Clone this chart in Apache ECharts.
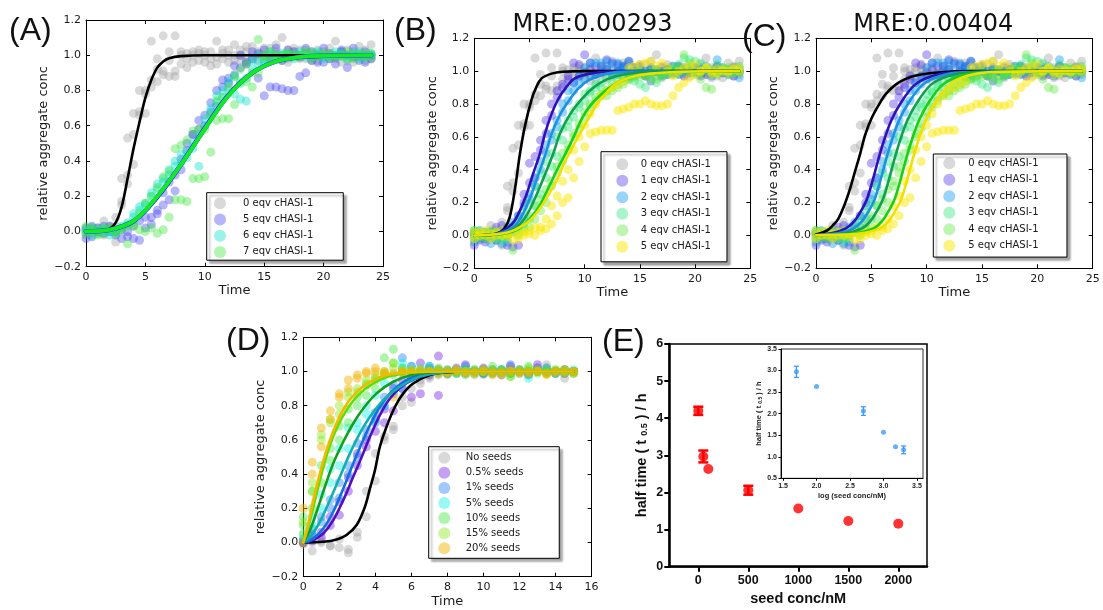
<!DOCTYPE html>
<html><head><meta charset="utf-8">
<script src="https://cdn.jsdelivr.net/npm/echarts@6/dist/echarts.min.js"></script>
<style>html,body{margin:0;padding:0;background:#fff}#c{width:1103px;height:610px}</style>
</head><body><div id="c"></div>
<script>
// ---------- DATA ----------
const timesABC = [0,0.5,1,1.5,2,2.5,3,3.5,4,4.5,5,5.5,6,6.5,7,7.5,8,8.5,9,9.5,10,10.5,11,11.5,12,12.5,13,13.5,14,14.5,15,15.5,16,16.5,17,17.5,18,18.5,19,19.5,20,20.5,21,21.5,22,22.5,23,23.5,24];
const timesD = [0,0.5,1,1.5,2,2.5,3,3.5,4,4.5,5,5.5,6,6.5,7,7.5,8,8.5,9,9.5,10,10.5,11,11.5,12,12.5,13,13.5,14,14.5,15];

// 0 eqv cHASI-1 (shared by A, B, C)
const eqv0_r1 = [0,0.02,-0.01,0.06,0.03,-0.06,0.17,0.32,0.55,0.66,0.8,1.08,0.85,1.11,1.02,1.11,0.95,1.01,1.0,0.97,1.02,0.94,1.08,0.98,1.0,1.06,0.98,1.02,1.0,0.97,1.04,1.0,1.06,1.1,0.98,1.0,1.03,0.98,1.01,1.03,0.99,1.0,1.08,1.0,0.97,1.02,1.05,1.0,1.06];
const eqv0_r2 = [-0.02,0.01,0.02,-0.02,0,0.03,0.15,0.27,0.38,0.68,0.67,0.82,0.92,0.89,0.88,0.91,1.0,0.93,1.02,1.01,0.96,1.02,0.99,1.03,0.96,1.0,1.03,0.97,1.05,1.0,0.98,1.04,1.0,0.97,1.03,1.02,0.98,1.01,0.97,1.0,1.02,0.98,1.0,0.96,1.03,0.99,1.01,0.97,1.0];
const eqv0_r3 = [0.01,-0.01,0,0.01,0.02,0.08,0.3,0.53,0.67,0.8,0.78,0.86,0.98,0.91,0.97,0.88,1.02,0.98,0.96,1.03,1.0,0.98,0.95,1.01,1.03,0.97,1.0,1.05,0.98,1.02,1.0,0.97,1.02,1.0,0.96,1.04,1.0,1.03,0.99,0.97,1.0,1.04,0.98,1.02,1.0,0.96,0.99,1.03,0.98];

// Panel A
const a5_r1 = [-0.04,0.03,0.02,0.03,0,-0.02,0.01,-0.03,-0.04,-0.05,0.02,0.08,0.1,0.15,0.18,0.23,0.35,0.5,0.55,0.58,0.66,0.68,0.71,0.82,0.87,0.89,0.93,0.96,0.98,0.87,0.77,0.82,0.82,0.81,0.8,0.8,0.88,0.9,0.97,1.0,0.96,0.98,0.95,1.02,0.93,0.99,1.0,0.96,0.98];
const a5_r2 = [0.02,-0.03,0,-0.01,0.03,0,-0.04,0,0.03,0.06,0.08,0.04,0.12,0.22,0.28,0.32,0.41,0.46,0.55,0.63,0.6,0.73,0.8,0.86,0.84,0.94,1.0,0.95,1.02,1.01,1.03,0.98,1.04,0.97,1.03,1.02,0.99,1.04,1.02,0.96,1.04,1.01,0.99,1.03,1.0,1.04,0.97,1.02,1.0];
const a6_r1 = [0.01,0.02,-0.01,0,-0.02,0.01,0.02,0.05,0.08,0.12,0.16,0.2,0.27,0.3,0.35,0.37,0.44,0.45,0.5,0.55,0.64,0.7,0.73,0.76,0.8,0.78,0.75,0.87,0.92,0.95,0.97,1.0,0.98,1.01,0.99,1.0,1.02,0.99,1.0,1.01,0.98,1.0,1.02,0.99,1.0,1.01,0.98,1.0,1.01];
const a6_r2 = [0,-0.02,0.01,0.02,0,-0.01,0.03,0.04,0.1,0.14,0.15,0.22,0.24,0.28,0.32,0.4,0.39,0.42,0.47,0.37,0.6,0.67,0.77,0.8,0.85,0.88,0.84,0.74,0.97,1.0,0.96,1.02,0.99,1.0,1.01,0.98,1.0,1.01,0.99,1.02,1.0,0.99,1.0,1.01,0.98,1.0,1.02,0.99,1.0];
const a7_r1 = [0.03,0,-0.02,0.02,0.01,-0.01,0.02,-0.07,0.03,0.01,0,0.02,-0.01,0.01,0.08,0.18,0.18,0.17,0.3,0.3,0.31,0.45,0.63,0.64,0.64,0.72,0.85,0.85,0.9,1.09,0.99,0.97,1.0,0.98,1.01,0.99,1.0,1.02,0.98,1.0,1.01,0.99,1.0,1.0,0.98,1.01,1.0,0.99,1.01];
const a7_r2 = [-0.01,0.02,0.01,-0.01,0.02,0,0.01,0.03,0.05,0.1,0.16,0.2,0.25,0.31,0.34,0.47,0.49,0.52,0.57,0.58,0.58,0.66,0.74,0.76,0.82,0.88,0.92,0.95,0.82,0.9,1.0,1.02,0.99,1.0,1.01,1.0,0.99,1.0,1.02,0.99,1.0,1.01,0.99,1.0,1.02,0.98,1.0,1.01,0.99];

// Panels B and C (same measurements)
const b1_r1 = [-0.06,-0.03,-0.04,0.02,0.05,0.06,-0.06,-0.07,-0.06,0.2,0.44,0.48,0.58,0.7,0.8,0.88,0.92,0.97,1.05,1.04,1.1,1.05,0.98,1.03,1.07,1.05,1.04,1.02,1.06,1.0,1.03,0.98,0.94,1.0,1.02,0.98,1.0,1.03,0.97,1.0,1.02,0.97,1.0,0.98,1.03,1.0,0.99,0.97,1.0];
const b1_r2 = [0.02,0,-0.02,0,-0.03,0.02,0,0.05,0.12,0.25,0.32,0.35,0.52,0.62,0.73,0.84,0.9,0.95,0.93,0.97,0.99,1.01,1.03,0.99,1.01,0.98,1.0,1.03,0.97,1.02,1.0,0.97,1.01,1.0,0.98,1.01,0.99,1.0,1.02,0.99,1.0,1.01,0.98,1.0,1.01,0.99,1.0,1.02,1.0];
const b2_r1 = [-0.04,-0.02,0,-0.05,-0.03,-0.05,-0.04,0.02,0.05,0.1,0.22,0.3,0.4,0.55,0.62,0.7,0.8,0.88,0.93,0.97,1.02,1.05,1.05,1.05,1.06,1.04,1.05,1.03,1.06,1.02,1.0,0.98,1.02,1.0,0.97,1.01,1.03,0.98,1.0,1.02,0.99,1.0,1.03,0.97,1.07,1.0,0.98,1.02,0.96];
const b2_r2 = [0.01,0.03,0.02,0,0.01,0.03,0.05,0.08,0.12,0.18,0.25,0.35,0.45,0.5,0.58,0.66,0.75,0.82,0.88,0.92,0.95,0.97,0.98,1.0,1.01,0.98,1.0,1.01,0.99,1.0,1.02,1.0,0.99,1.01,1.0,0.98,1.0,1.02,1.0,0.99,1.0,1.02,1.0,0.99,1.0,1.01,0.99,1.0,1.02];
const b3_r1 = [0.03,0,-0.02,0.02,0,-0.03,0.01,0.03,0,0.05,0.1,0.18,0.25,0.35,0.42,0.48,0.58,0.66,0.72,0.78,0.82,0.87,0.9,0.93,0.95,0.97,0.98,0.96,1.0,0.94,0.92,0.9,0.95,0.93,0.98,1.0,1.02,1.04,1.08,1.07,1.06,1.05,1.02,1.0,1.04,1.02,0.98,1.0,1.03];
const b3_r2 = [-0.02,0.02,0.01,-0.01,0.02,0,0.02,0.06,0.1,0.15,0.2,0.3,0.38,0.45,0.5,0.6,0.65,0.7,0.76,0.8,0.86,0.88,0.92,0.9,0.88,0.92,0.95,0.97,0.96,0.99,1.0,0.98,1.0,1.01,0.99,1.0,0.98,1.0,1.01,1.0,0.98,1.0,1.01,0.99,1.0,1.02,1.0,0.99,1.0];
const b4_r1 = [0,0.02,-0.01,0,0.02,-0.01,-0.02,-0.09,0.01,0.03,0.05,0.1,0.15,0.2,0.3,0.38,0.45,0.52,0.6,0.65,0.72,0.78,0.82,0.85,0.88,0.9,0.92,0.94,0.95,0.96,0.97,0.98,0.96,0.95,0.97,0.98,1.0,1.02,1.1,1.05,1.0,0.95,0.9,0.89,0.98,1.0,1.02,0.99,1.01];
const b4_r2 = [0.03,-0.01,0.01,0.03,-0.02,0.01,0,0.03,0.05,0.08,0.12,0.18,0.22,0.28,0.33,0.42,0.5,0.55,0.62,0.68,0.75,0.8,0.84,0.86,0.85,0.88,0.9,0.92,0.95,0.97,0.99,0.97,0.99,1.0,0.98,1.0,1.01,0.99,1.0,1.02,1.0,0.99,1.0,1.01,0.99,1.0,1.01,1.0,0.99];
const b5_r1 = [0.02,0,0.03,0.01,0.02,0,0.01,0.02,-0.02,0,0.03,0.05,0.03,0.04,0.07,0.12,0.2,0.23,0.35,0.45,0.54,0.62,0.63,0.64,0.64,0.64,0.76,0.77,0.78,0.8,0.8,0.82,0.8,0.79,0.79,0.8,0.85,0.9,0.93,0.96,0.98,1.0,1.02,1.0,0.99,1.01,1.0,1.02,1.0];
const b5_r2 = [-0.02,0.02,0,-0.02,0,0.03,0,-0.03,0.01,0.02,0.01,0,0.05,0.1,0.18,0.24,0.33,0.4,0.52,0.6,0.67,0.74,0.8,0.85,0.88,0.9,0.92,0.94,1.02,1.03,1.04,1.05,1.06,1.03,1.05,1.02,0.97,1.0,1.02,1.03,1.04,1.0,1.02,0.98,1.01,1.0,0.99,1.01,1.02];

// Panel D
const d0_r1 = [0,-0.05,0,-0.02,0.02,-0.06,0.06,0.15,0.52,0.62,0.68,0.85,0.82,0.95,0.97,0.99,0.98,1.0,0.99,1.01,0.98,1.0,1.01,0.99,1.0,0.98,1.01,1.04,1.0,0.96,1.0];
const d0_r2 = [-0.01,0,0.01,-0.02,-0.03,-0.04,0.03,0.3,0.36,0.6,0.66,0.8,0.9,0.93,0.96,0.98,1.0,0.99,1.0,0.98,1.0,0.99,1.0,1.01,0.99,1.0,1.02,0.99,1.0,1.01,0.99];
const d05_r1 = [0,0.01,0.03,0.1,0.16,0.38,0.52,0.56,0.65,0.7,0.77,0.9,0.85,0.87,0.98,0.86,1.0,1.02,1.04,1.0,1.02,1.0,0.98,1.03,1.0,0.99,1.04,1.02,1.0,0.99,1.0];
const d05_r2 = [0,0.04,0.06,0.15,0.24,0.3,0.45,0.6,0.72,0.78,0.9,0.95,1.03,1.05,1.02,1.09,0.99,1.0,1.01,1.0,0.99,1.01,1.0,0.99,1.01,1.0,1.01,1.0,0.99,1.0,1.0];
const d1_r1 = [0,0.05,0.12,0.25,0.26,0.4,0.5,0.62,0.7,0.8,0.87,0.9,0.96,0.98,1.03,1.0,1.01,0.99,1.03,1.0,0.99,1.0,1.01,1.04,1.0,0.99,1.02,1.0,0.99,1.01,1.0];
const d1_r2 = [0.02,0.08,0.15,0.2,0.35,0.45,0.58,0.66,0.76,0.85,0.92,1.08,0.97,1.0,0.99,1.01,1.0,1.01,0.99,1.0,1.01,0.99,1.0,1.01,1.0,0.98,1.0,1.01,1.0,0.99,1.0];
const d5_r1 = [0.02,0.1,0.2,0.35,0.45,0.55,0.66,0.75,0.71,0.8,0.88,1.05,1.0,1.02,1.03,1.0,0.99,1.0,1.01,0.99,1.0,1.01,0.99,1.0,1.01,0.96,1.0,1.02,1.0,0.99,1.0];
const d5_r2 = [0.05,0.15,0.28,0.43,0.55,0.67,0.7,0.8,0.86,0.93,0.98,1.02,1.03,0.99,1.0,1.01,1.0,0.99,1.0,1.01,1.0,0.99,1.01,1.0,0.99,1.0,1.01,1.0,0.99,1.0,1.01];
const d10_r1 = [0.1,0.2,0.35,0.48,0.6,0.7,0.8,0.86,0.9,1.08,1.13,1.0,1.0,0.98,1.0,1.02,0.99,1.0,0.98,1.0,1.01,1.03,1.0,0.99,1.0,1.03,1.0,0.99,1.01,1.0,1.0];
const d10_r2 = [0.15,0.3,0.45,0.55,0.68,0.78,0.85,0.92,0.95,0.98,1.05,1.02,0.99,1.0,1.01,1.0,0.99,1.0,1.01,1.0,0.99,1.0,1.01,0.97,1.0,1.01,0.99,1.0,1.0,1.01,0.99];
const d15_r1 = [0.05,0.3,0.6,0.7,0.75,0.85,0.88,0.93,0.96,0.99,1.05,1.0,1.01,1.0,0.99,1.0,1.01,0.99,1.0,1.01,1.0,0.99,1.0,0.97,1.0,1.02,1.0,0.99,1.01,1.0,0.99];
const d15_r2 = [0.12,0.35,0.63,0.72,0.8,0.88,0.9,0.95,0.98,1.0,1.02,0.99,1.0,1.01,1.0,0.99,1.0,1.01,1.0,0.99,1.0,1.01,0.99,1.0,1.01,0.99,1.0,1.01,0.99,1.0,1.0];
const d20_r1 = [0.2,0.4,0.56,0.77,0.87,0.95,0.98,0.99,1.0,0.99,0.85,1.0,0.99,1.01,1.0,0.99,1.0,1.01,0.99,1.0,1.01,0.98,1.0,1.01,0.99,1.0,1.01,0.99,1.0,1.01,1.0];
const d20_r2 = [0,0.47,0.67,0.72,0.85,0.9,0.96,1.0,1.02,1.0,0.99,1.0,1.0,0.98,1.0,1.01,0.99,1.0,1.0,0.99,1.0,1.0,0.98,1.0,1.0,0.99,1.0,0.98,1.0,0.99,1.0];

// Fitted curves, [time, value]
const fitA0 = [[0,0],[1,0.002],[1.5,0.005],[2,0.015],[2.5,0.05],[3,0.14],[3.5,0.3],[4,0.47],[4.5,0.62],[5,0.76],[5.5,0.86],[6,0.93],[6.5,0.965],[7,0.983],[8,0.995],[10,1],[24,1]];
const fitA5 = [[0,0],[2,0.01],[4,0.058],[6,0.195],[8,0.38],[10,0.585],[12,0.775],[14,0.9],[16,0.965],[18,0.99],[20,0.997],[24,1]];
const fitA6 = [[0,0],[2,0.01],[4,0.059],[6,0.198],[8,0.38],[10,0.582],[12,0.772],[14,0.9],[16,0.965],[18,0.99],[20,0.997],[24,1]];
const fitA7 = [[0,0],[2,0.01],[4,0.06],[6,0.2],[8,0.38],[10,0.58],[12,0.77],[14,0.9],[16,0.965],[18,0.99],[20,0.997],[24,1]];

const fitB0 = [[0,0],[1,0.001],[2,0.008],[2.7,0.04],[3.2,0.11],[3.7,0.29],[4.14,0.5],[4.6,0.67],[5.2,0.83],[5.6,0.9],[6.1,0.956],[7,0.985],[8,0.996],[10,1],[24,1]];
const fitB1 = [[0,0],[1,0.003],[2,0.012],[3,0.045],[3.7,0.094],[4.6,0.226],[5.3,0.37],[5.95,0.5],[6.4,0.62],[7,0.74],[7.6,0.83],[8.3,0.9],[9.1,0.956],[10.5,0.985],[12,0.996],[24,1]];
const fitB2 = [[0,0],[1,0.002],[2,0.008],[3,0.03],[3.7,0.06],[4.4,0.13],[5.04,0.226],[5.8,0.37],[6.47,0.5],[7.01,0.62],[7.8,0.74],[8.67,0.83],[9.5,0.9],[10.5,0.95],[12,0.985],[14,0.997],[24,1]];
const fitB3 = [[0,0],[2,0.006],[3,0.02],[4,0.06],[4.8,0.13],[5.5,0.226],[6.4,0.37],[7.16,0.5],[7.76,0.62],[8.7,0.74],[9.73,0.83],[10.8,0.9],[12,0.95],[13.5,0.98],[16,0.996],[24,1]];
const fitB4 = [[0,0],[2,0.005],[3,0.015],[4,0.04],[5,0.1],[5.9,0.18],[6.7,0.287],[7.5,0.4],[8.2,0.49],[9,0.6],[9.73,0.71],[10.5,0.79],[11.5,0.86],[12.7,0.92],[14,0.96],[16,0.985],[20,0.998],[24,1]];
const fitB5 = [[0,0],[2,0.007],[3,0.018],[3.7,0.035],[5,0.09],[6,0.17],[6.7,0.246],[7.5,0.34],[8.2,0.449],[9,0.55],[9.73,0.64],[10.5,0.73],[11.23,0.81],[12,0.87],[12.74,0.92],[14,0.96],[16,0.985],[20,0.998],[24,1]];

const fitC0 = [[0,0.005],[1,0.03],[1.5,0.06],[2,0.1],[2.62,0.195],[3.1,0.29],[3.52,0.388],[4,0.5],[4.43,0.61],[5,0.71],[5.63,0.79],[6.3,0.86],[7.14,0.915],[8,0.95],[9.24,0.976],[11,0.992],[14,1],[24,1]];
const fitC1 = [[0,0.003],[1.5,0.015],[2.7,0.043],[3.5,0.09],[4.2,0.165],[4.6,0.22],[5.1,0.33],[5.7,0.48],[6.2,0.59],[6.8,0.7],[7.6,0.8],[8.9,0.915],[10.5,0.97],[12.5,0.993],[24,1]];
const fitC2 = [[0,0.002],[2,0.013],[3.4,0.043],[4.2,0.09],[4.9,0.165],[5.3,0.22],[5.8,0.33],[6.4,0.48],[6.9,0.59],[7.5,0.7],[8.3,0.8],[9.6,0.915],[11.2,0.97],[13.2,0.993],[24,1]];
const fitC3 = [[0,0.001],[2.5,0.012],[4.15,0.043],[4.95,0.09],[5.65,0.165],[6.05,0.22],[6.55,0.33],[7.15,0.48],[7.65,0.59],[8.25,0.7],[9.05,0.8],[10.35,0.915],[11.95,0.97],[14,0.993],[24,1]];
const fitC4 = [[0,0.001],[3,0.008],[5.2,0.043],[6,0.09],[6.7,0.165],[7.1,0.22],[7.6,0.33],[8.2,0.48],[8.7,0.59],[9.3,0.7],[10.1,0.8],[11.4,0.915],[13,0.97],[15,0.993],[24,1]];
const fitC5 = [[0,0.001],[3.5,0.008],[5.8,0.043],[6.6,0.09],[7.3,0.165],[7.7,0.22],[8.2,0.33],[8.8,0.48],[9.3,0.59],[9.9,0.7],[10.7,0.8],[12,0.915],[13.6,0.97],[15.6,0.993],[24,1]];

const fitD0 = [[0,0],[1.11,0.004],[1.85,0.018],[2.4,0.044],[2.96,0.102],[3.42,0.209],[3.7,0.316],[3.98,0.424],[4.25,0.56],[4.62,0.677],[5.09,0.794],[5.55,0.872],[6.1,0.93],[7.03,0.979],[7.95,0.995],[9,1],[15,1]];
const fitD05 = [[0,0],[0.55,0.014],[1.11,0.053],[1.66,0.13],[2.22,0.248],[2.77,0.384],[3.24,0.5],[3.7,0.618],[4.25,0.745],[4.81,0.842],[5.55,0.92],[6.47,0.968],[7.58,0.995],[9,1],[15,1]];
const fitD1 = [[0,0],[0.55,0.023],[1.11,0.082],[1.66,0.18],[2.22,0.316],[2.77,0.462],[3.24,0.579],[3.7,0.686],[4.25,0.794],[4.9,0.881],[5.73,0.95],[6.84,0.989],[8,1],[15,1]];
const fitD5 = [[0,0],[0.46,0.043],[0.92,0.121],[1.48,0.248],[2.03,0.384],[2.59,0.521],[3.14,0.638],[3.7,0.735],[4.44,0.833],[5.36,0.911],[6.47,0.97],[7.77,0.995],[9,1],[15,1]];
const fitD10 = [[0,0],[0.37,0.072],[0.74,0.18],[1.2,0.326],[1.66,0.462],[2.22,0.589],[2.77,0.696],[3.33,0.784],[4.07,0.872],[4.99,0.94],[6.1,0.983],[7.4,0.997],[9,1],[15,1]];
const fitD15 = [[0,0],[0.28,0.092],[0.65,0.248],[1.02,0.404],[1.39,0.54],[1.85,0.667],[2.4,0.774],[3.05,0.862],[3.88,0.93],[4.81,0.973],[6.1,0.995],[8,1],[15,1]];
const fitD20 = [[0,0],[0.28,0.111],[0.55,0.248],[0.92,0.404],[1.29,0.54],[1.76,0.677],[2.31,0.794],[2.96,0.881],[3.7,0.94],[4.62,0.979],[5.92,0.995],[8,1],[15,1]];

// Panel E
const seedConc = [0,50,100,500,1000,1500,2000];
const halfTime = [4.2,2.97,2.63,2.06,1.57,1.23,1.16];
const halfTimeErr = [0.11,0.16,0,0.12,0,0,0];
const logSeed = [1.7,2.0,2.7,3.0,3.18,3.3];
const insetHalfTime = [2.97,2.63,2.06,1.57,1.23,1.16];
const insetErr = [0.13,0,0.1,0,0,0.09];

const xTicksE = [0,500,1000,1500,2000];
const xTicksInset = [1.5,2.0,2.5,3.0,3.5];

// ---------- BUILD ----------
const F = "'DejaVu Sans', sans-serif";
const FA = "'Liberation Sans', Arial, sans-serif";
const grids = [], xAxes = [], yAxes = [], series = [];

function fmt1(v){ if (Math.abs(v) < 1e-9) return '0.0'; return v.toFixed(1).replace('-', '\u2212'); }

function mplPanel(r, xmin, xmax, xint, gapY, gapX){
  grids.push({left:r.l, top:r.t, width:r.w, height:r.h, show:false});
  const gi = grids.length - 1;
  const line = {show:true, onZero:false, lineStyle:{color:'#000', width:1}};
  const tick = {show:true, inside:true, length:4, lineStyle:{color:'#000', width:1}};
  const lab = {fontSize:11, color:'#1a1a1a', fontFamily:F};
  xAxes.push({type:'value', gridIndex:gi, min:xmin, max:xmax, interval:xint, position:'bottom',
    axisLine:line, axisTick:tick, splitLine:{show:false}, axisLabel:Object.assign({margin:5}, lab),
    name:'Time', nameLocation:'middle', nameGap:gapX, nameTextStyle:{fontSize:13, color:'#1a1a1a', fontFamily:F}});
  const xi = xAxes.length - 1;
  xAxes.push({type:'value', gridIndex:gi, min:xmin, max:xmax, interval:xint, position:'top',
    axisLine:line, axisTick:tick, splitLine:{show:false}, axisLabel:{show:false}});
  yAxes.push({type:'value', gridIndex:gi, min:-0.2, max:1.2, interval:0.2, position:'left',
    axisLine:line, axisTick:tick, splitLine:{show:false}, axisLabel:Object.assign({margin:5, formatter:fmt1}, lab),
    name:'relative aggregate conc', nameLocation:'middle', nameGap:gapY, nameRotate:90,
    nameTextStyle:{fontSize:13, color:'#1a1a1a', fontFamily:F}});
  const yi = yAxes.length - 1;
  yAxes.push({type:'value', gridIndex:gi, min:-0.2, max:1.2, interval:0.2, position:'right',
    axisLine:line, axisTick:tick, splitLine:{show:false}, axisLabel:{show:false}});
  return {xi, yi};
}

function pts(times, reps){
  const out = [];
  reps.forEach(r => r.forEach((y, i) => out.push([times[i], y])));
  return out;
}
function scat(ax, name, color, data){
  series.push({type:'scatter', name, xAxisIndex:ax.xi, yAxisIndex:ax.yi, data, symbolSize:9,
    itemStyle:{color, borderWidth:0}, silent:true, z:2});
}
function fit(ax, color, data, w){
  series.push({type:'line', name:'fit', xAxisIndex:ax.xi, yAxisIndex:ax.yi, data, smooth:0.35,
    showSymbol:false, symbol:'none', lineStyle:{color, width:w || 2.6, cap:'round', join:'round'}, silent:true, z:3});
}

const C = {
  gray:'rgba(160,160,160,0.5)',
  a5:'rgba(70,70,240,0.5)', a6:'rgba(0,225,200,0.5)', a7:'rgba(60,230,60,0.5)',
  b1:'rgba(80,50,230,0.5)', b2:'rgba(0,150,245,0.5)', b3:'rgba(40,230,120,0.5)', b4:'rgba(90,230,60,0.5)', b5:'rgba(250,230,0,0.62)',
  d05:'rgba(110,20,230,0.5)', d1:'rgba(20,120,245,0.5)', d5:'rgba(0,240,230,0.5)', d10:'rgba(50,230,50,0.5)', d15:'rgba(130,230,10,0.5)', d20:'rgba(245,180,0,0.6)'
};

// Panel A
const A = mplPanel({l:86, t:20, w:297, h:246.7}, 0, 25, 5, 35, 17);
scat(A, '0 eqv cHASI-1', C.gray, pts(timesABC, [eqv0_r1, eqv0_r2, eqv0_r3]));
scat(A, '5 eqv cHASI-1', C.a5, pts(timesABC, [a5_r1, a5_r2]));
scat(A, '6 eqv cHASI-1', C.a6, pts(timesABC, [a6_r1, a6_r2]));
scat(A, '7 eqv cHASI-1', C.a7, pts(timesABC, [a7_r1, a7_r2]));
fit(A, '#000', fitA0);
fit(A, '#2a2ad0', fitA5, 4.6);
fit(A, '#10c8b0', fitA6, 4);
fit(A, '#11ee11', fitA7, 3.2);

// Panels B and C
const BC = [
  [mplPanel({l:474.3, t:38.3, w:276, h:230}, 0, 25, 5, 32, 18), [fitB0, fitB1, fitB2, fitB3, fitB4, fitB5]],
  [mplPanel({l:816, t:38.3, w:276.7, h:230}, 0, 25, 5, 35, 18), [fitC0, fitC1, fitC2, fitC3, fitC4, fitC5]]
];
const fitColsBC = ['#000', '#2c12b8', '#1a92e0', '#12a050', '#18d018', '#f0e000'];
BC.forEach(([ax, fits]) => {
  scat(ax, '0 eqv cHASI-1', C.gray, pts(timesABC, [eqv0_r1, eqv0_r2, eqv0_r3]));
  scat(ax, '1 eqv cHASI-1', C.b1, pts(timesABC, [b1_r1, b1_r2]));
  scat(ax, '2 eqv cHASI-1', C.b2, pts(timesABC, [b2_r1, b2_r2]));
  scat(ax, '3 eqv cHASI-1', C.b3, pts(timesABC, [b3_r1, b3_r2]));
  scat(ax, '4 eqv cHASI-1', C.b4, pts(timesABC, [b4_r1, b4_r2]));
  scat(ax, '5 eqv cHASI-1', C.b5, pts(timesABC, [b5_r1, b5_r2]));
  fits.forEach((f, i) => fit(ax, fitColsBC[i], f));
});

// Panel D
const D = mplPanel({l:303.3, t:337.3, w:288.3, h:239.4}, 0, 16, 2, 36, 18.5);
scat(D, 'No seeds', C.gray, pts(timesD, [d0_r1, d0_r2]));
scat(D, '0.5% seeds', C.d05, pts(timesD, [d05_r1, d05_r2]));
scat(D, '1% seeds', C.d1, pts(timesD, [d1_r1, d1_r2]));
scat(D, '5% seeds', C.d5, pts(timesD, [d5_r1, d5_r2]));
scat(D, '10% seeds', C.d10, pts(timesD, [d10_r1, d10_r2]));
scat(D, '15% seeds', C.d15, pts(timesD, [d15_r1, d15_r2]));
scat(D, '20% seeds', C.d20, pts(timesD, [d20_r1, d20_r2]));
fit(D, '#000', fitD0);
fit(D, '#5010c0', fitD05);
fit(D, '#1070e0', fitD1);
fit(D, '#10b0b0', fitD5);
fit(D, '#10a020', fitD10);
fit(D, '#60e000', fitD15);
fit(D, '#f5b800', fitD20);

// Panel E main
grids.push({left:669.3, top:344, width:257.7, height:222.7, show:true, borderColor:'#000', borderWidth:1.5, backgroundColor:'transparent'});
const gE = grids.length - 1;
xAxes.push({type:'value', gridIndex:gE, min:-290, max:2287, position:'bottom',
  axisLine:{show:true, onZero:false, lineStyle:{color:'#000', width:2.5}},
  axisTick:{show:true, length:5, customValues:xTicksE, lineStyle:{color:'#000', width:2}},
  axisLabel:{customValues:xTicksE, formatter:v => String(Math.round(v)), fontSize:12.5, fontWeight:'bold', color:'#111', fontFamily:FA, margin:7},
  splitLine:{show:false}, name:'seed conc/nM', nameLocation:'middle', nameGap:25,
  nameTextStyle:{fontSize:14.5, fontWeight:'bold', color:'#111', fontFamily:FA}});
const xE = xAxes.length - 1;
yAxes.push({type:'value', gridIndex:gE, min:0, max:6, interval:1, position:'left',
  axisLine:{show:true, onZero:false, lineStyle:{color:'#000', width:2.5}},
  axisTick:{show:true, length:5, lineStyle:{color:'#000', width:2}},
  axisLabel:{fontSize:12.5, fontWeight:'bold', color:'#111', fontFamily:FA, margin:6},
  splitLine:{show:false}, name:'{a|half time ( t }{s|0.5}{a| ) / h}', nameLocation:'middle', nameGap:20, nameRotate:90,
  nameTextStyle:{rich:{a:{fontSize:14.5, fontWeight:'bold', color:'#111', fontFamily:FA},
    s:{fontSize:9, fontWeight:'bold', color:'#111', fontFamily:FA, padding:[6,0,0,0]}}}});
const yE = yAxes.length - 1;

// Panel E inset
grids.push({left:781, top:349, width:142, height:129.3, show:true, borderColor:'#333', borderWidth:1, backgroundColor:'#fff'});
const gI = grids.length - 1;
xAxes.push({type:'value', gridIndex:gI, min:1.47, max:3.59, position:'bottom',
  axisLine:{show:true, onZero:false, lineStyle:{color:'#000', width:1}},
  axisTick:{show:true, length:2.5, customValues:xTicksInset, lineStyle:{color:'#000'}},
  axisLabel:{customValues:xTicksInset, formatter:v => v.toFixed(1), fontSize:7, fontWeight:'bold', color:'#222', fontFamily:FA, margin:4},
  splitLine:{show:false}, name:'log (seed conc/nM)', nameLocation:'middle', nameGap:14,
  nameTextStyle:{fontSize:7.5, fontWeight:'bold', color:'#222', fontFamily:FA}});
const xI = xAxes.length - 1;
yAxes.push({type:'value', gridIndex:gI, min:0.5, max:3.5, interval:0.5, position:'left',
  axisLine:{show:true, onZero:false, lineStyle:{color:'#000', width:1}},
  axisTick:{show:true, length:2.5, lineStyle:{color:'#000'}},
  axisLabel:{formatter:v => v.toFixed(1), fontSize:7, fontWeight:'bold', color:'#222', fontFamily:FA, margin:4},
  splitLine:{show:false}, name:'{a|half time ( t }{s|0.5}{a| ) / h}', nameLocation:'middle', nameGap:16, nameRotate:90,
  nameTextStyle:{rich:{a:{fontSize:7.5, fontWeight:'bold', color:'#222', fontFamily:FA},
    s:{fontSize:5, fontWeight:'bold', color:'#222', fontFamily:FA, padding:[3,0,0,0]}}}});
const yI = yAxes.length - 1;

function errSeries(xi, yi, xs, ys, es, color, cap, lw){
  const data = [];
  xs.forEach((x, i) => { if (es[i] > 0) data.push([x, ys[i] - es[i], ys[i] + es[i]]); });
  series.push({type:'custom', xAxisIndex:xi, yAxisIndex:yi, data, silent:true, z:4,
    renderItem:(params, api) => {
      const p1 = api.coord([api.value(0), api.value(1)]);
      const p2 = api.coord([api.value(0), api.value(2)]);
      const st = {stroke:color, lineWidth:lw};
      return {type:'group', children:[
        {type:'line', shape:{x1:p1[0], y1:p1[1], x2:p2[0], y2:p2[1]}, style:st},
        {type:'line', shape:{x1:p1[0]-cap, y1:p1[1], x2:p1[0]+cap, y2:p1[1]}, style:st},
        {type:'line', shape:{x1:p2[0]-cap, y1:p2[1], x2:p2[0]+cap, y2:p2[1]}, style:st}
      ]};
    }});
}
series.push({type:'scatter', name:'E', xAxisIndex:xE, yAxisIndex:yE, data:seedConc.map((x,i)=>[x, halfTime[i]]),
  symbolSize:10, itemStyle:{color:'#ff0000'}, silent:true, z:3});
errSeries(xE, yE, seedConc, halfTime, halfTimeErr, '#ff0000', 5, 2.5);
series.push({type:'scatter', name:'Einset', xAxisIndex:xI, yAxisIndex:yI, data:logSeed.map((x,i)=>[x, insetHalfTime[i]]),
  symbolSize:5, itemStyle:{color:'#3d9bff'}, silent:true, z:5});
errSeries(xI, yI, logSeed, insetHalfTime, insetErr, '#3d9bff', 2.5, 1.3);

// ---------- LEGENDS ----------
function legend(left, top, pad, gap, textPad, items){
  return {show:true, orient:'vertical', left, top, padding:pad, itemGap:gap, itemWidth:12, itemHeight:12,
    icon:'circle', selectedMode:false, backgroundColor:'#fff', borderColor:'#000', borderWidth:1, borderRadius:0,
    shadowColor:'rgba(0,0,0,0.35)', shadowBlur:2, shadowOffsetX:3, shadowOffsetY:3,
    textStyle:{fontSize:10, fontFamily:F, color:'#1a1a1a', padding:[0,0,0,textPad]},
    data:items.map(([name, color]) => ({name, icon:'circle', itemStyle:{color}}))};
}
const legendA = legend(206.7, 192.7, [4.6, 30, 2.3, 7.3], 4.2, 12,
  [['0 eqv cHASI-1', C.gray], ['5 eqv cHASI-1', C.a5], ['6 eqv cHASI-1', C.a6], ['7 eqv cHASI-1', C.a7]]);
const itemsBC = [['0 eqv cHASI-1', C.gray], ['1 eqv cHASI-1', C.b1], ['2 eqv cHASI-1', C.b2], ['3 eqv cHASI-1', C.b3], ['4 eqv cHASI-1', C.b4], ['5 eqv cHASI-1', C.b5]];
const legendB = legend(601, 151.7, [6.6, 16, 9, 15.3], 4.5, 7.4, itemsBC);
const legendC = legend(933.3, 154, [3.3, 28.4, 5.3, 10], 4.5, 8, itemsBC);
const legendD = legend(428.7, 446.7, [5, 35.9, 4, 9.6], 3.1, 10.4,
  [['No seeds', C.gray], ['0.5% seeds', C.d05], ['1% seeds', C.d1], ['5% seeds', C.d5], ['10% seeds', C.d10], ['15% seeds', C.d15], ['20% seeds', C.d20]]);

// ---------- TEXT ----------
function txt(x, y, text, size, family, align){
  return {type:'text', x, y, z:100, style:{text, fontSize:size, fontFamily:family, fill:'#111', textAlign:align || 'left', textVerticalAlign:'middle'}};
}
const graphics = [
  txt(9, 31.5, '(A)', 32, FA),
  txt(394, 31, '(B)', 32, FA),
  txt(742, 37.5, '(C)', 32, FA),
  txt(226, 341, '(D)', 32, FA),
  txt(602, 342.5, '(E)', 32, FA),
  txt(592.5, 24.5, 'MRE:0.00293', 24, F, 'center'),
  txt(933.3, 24.5, 'MRE:0.00404', 24, F, 'center')
];

const chart = echarts.init(document.getElementById('c'), null, {renderer:'canvas'});
chart.setOption({
  animation:false, backgroundColor:'#fff',
  grid:grids, xAxis:xAxes, yAxis:yAxes, series,
  legend:[legendA, legendB, legendC, legendD],
  graphic:graphics
});
</script></body></html>
